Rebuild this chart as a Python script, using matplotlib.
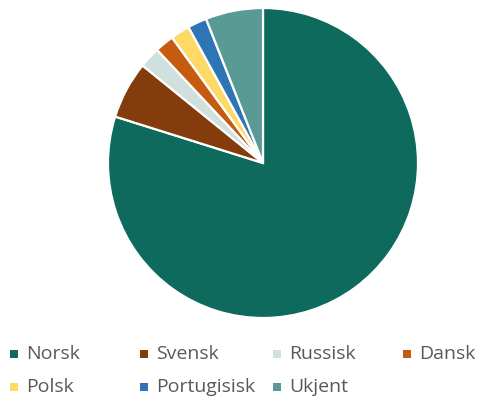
import matplotlib
matplotlib.use("Agg")
import matplotlib.pyplot as plt
from matplotlib.patches import Rectangle

labels = ["Norsk", "Svensk", "Russisk", "Dansk", "Polsk", "Portugisisk", "Ukjent"]
values = [80, 6, 2.2, 2, 2, 2, 6]
colors = ["#0F6A5E", "#843C0C", "#CFE0DF", "#C55A11", "#FFD966", "#2E75B6", "#5A9A94"]

W, H = 480, 403
fig = plt.figure(figsize=(W / 100, H / 100), dpi=100)

cx, cy, r = 263, 163, 155
ax = fig.add_axes([(cx - r) / W, (H - cy - r) / H, 2 * r / W, 2 * r / H])
ax.pie(values, colors=colors, startangle=90, counterclock=False, radius=1,
       wedgeprops=dict(edgecolor="white", linewidth=1.6))
ax.set_xlim(-1.0, 1.0)
ax.set_ylim(-1.0, 1.0)
ax.set_axis_off()

# legend laid out manually in 4 equal columns
col_x = [10, 140, 273, 403]
row_y = [354, 387]
for i, (lab, col) in enumerate(zip(labels, colors)):
    c = i % 4
    rr = i // 4
    x = col_x[c]
    y = row_y[rr]
    fig.patches.append(Rectangle(((x) / W, (H - y - 4) / H), 8 / W, 8 / H,
                                 transform=fig.transFigure, facecolor=col,
                                 edgecolor="none"))
    fig.text((x + 16) / W, (H - y) / H, lab, fontsize=14, color="#595959",
             family="Open Sans", va="center", ha="left")

fig.savefig("out.png", dpi=100)
